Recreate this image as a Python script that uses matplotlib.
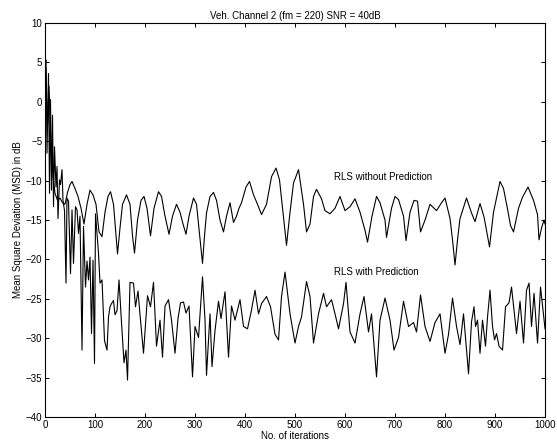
import matplotlib

matplotlib.use("Agg")
import matplotlib.pyplot as plt

# RLS without prediction (upper curve)
iter_wo = [0, 2, 5, 8, 11, 14, 17, 20, 25, 30, 35, 40, 45, 50, 54, 60, 66, 72, 78, 84,
           90, 96, 102, 108, 114, 120, 126, 131, 137, 142, 145, 150, 155, 163, 170, 175,
           179, 185, 192, 198, 204, 211, 218, 227, 233, 240, 248, 255, 263, 270, 276,
           282, 288, 297, 303, 309, 315, 319, 323, 330, 337, 343, 350, 357, 363, 370,
           377, 383, 388, 393, 402, 409, 417, 425, 433, 443, 453, 462, 469, 476, 483,
           490, 497, 507, 517, 523, 530, 537, 543, 553, 560, 570, 580, 590, 600, 610,
           620, 630, 640, 645, 654, 663, 670, 680, 683, 693, 700, 707, 717, 722, 730,
           738, 745, 751, 760, 770, 783, 793, 800, 810, 815, 820, 825, 830, 843, 853,
           860, 870, 878, 889, 897, 910, 917, 925, 931, 937, 947, 955, 966, 977, 985,
           988, 993, 998, 1000]
msd_wo = [5.0, 4.0, -3.0, 2.0, -4.0, -8.0, -10.0, -11.6, -12.5, -12.2, -12.8, -13.0,
          -11.5, -10.5, -10.1, -11.0, -12.0, -13.5, -15.5, -13.0, -11.2, -11.8, -13.0,
          -16.5, -17.1, -14.0, -12.0, -11.4, -13.0, -17.0, -19.3, -16.0, -13.0, -11.8,
          -13.0, -17.0, -19.2, -15.0, -12.5, -12.0, -13.5, -17.0, -13.5, -11.4, -12.0,
          -14.5, -16.8, -14.5, -13.0, -14.0, -15.5, -16.8, -14.5, -12.2, -13.0, -16.7,
          -20.5, -17.0, -14.1, -12.0, -11.5, -12.5, -15.0, -16.5, -14.5, -12.8, -15.3,
          -14.5, -13.5, -12.8, -10.8, -10.1, -11.8, -13.0, -14.3, -13.0, -9.5, -8.4,
          -9.9, -14.0, -18.2, -14.0, -10.3, -8.6, -13.0, -16.5, -15.5, -12.0, -11.1,
          -12.3, -13.8, -14.2, -13.5, -12.0, -13.8, -13.3, -12.3, -14.0, -16.3, -17.8,
          -14.5, -12.0, -12.8, -15.0, -17.2, -13.5, -12.0, -12.4, -14.5, -17.6, -14.0,
          -12.5, -12.6, -16.5, -15.0, -13.0, -13.8, -12.8, -12.2, -14.8, -17.5, -20.7,
          -17.5, -14.8, -12.2, -14.1, -15.2, -12.9, -14.6, -18.4, -14.0, -10.1, -11.0,
          -13.6, -15.7, -16.5, -13.5, -12.1, -10.8, -12.5, -14.3, -17.5, -16.0, -15.0,
          -15.5]

# RLS with prediction (lower curve)
iter_w = [0, 2, 4, 7, 9, 11, 13, 15, 17, 19, 22, 24, 26, 29, 31, 34, 36, 39, 42, 44,
          47, 51, 54, 57, 61, 64, 67, 70, 74, 77, 81, 84, 87, 90, 93, 96, 99, 101, 104,
          107, 110, 114, 119, 124, 127, 130, 133, 137, 140, 144, 148, 153, 158, 162, 165,
          170, 177, 181, 186, 190, 197, 205, 211, 217, 223, 230, 235, 240, 247, 253, 260,
          266, 271, 277, 282, 288, 295, 300, 307, 315, 320, 323, 330, 334, 340, 347, 352,
          360, 367, 373, 380, 390, 397, 405, 413, 420, 427, 433, 443, 451, 460, 467, 473,
          480, 490, 500, 507, 513, 523, 530, 537, 547, 557, 563, 573, 580, 587, 597, 602,
          610, 620, 630, 638, 647, 653, 663, 670, 680, 690, 698, 707, 717, 727, 737, 743,
          751, 760, 770, 780, 790, 800, 807, 815, 823, 830, 837, 847, 853, 858, 861, 865,
          870, 875, 881, 885, 890, 895, 899, 903, 908, 915, 921, 928, 933, 938, 943, 950,
          957, 963, 968, 973, 978, 985, 991, 998, 1000]
msd_w = [5.0, 5.3, -6.5, 3.6, -11.6, 0.3, -11.2, -1.7, -13.3, -5.7, -10.8, -8.2, -14.8,
         -9.9, -10.5, -8.6, -12.5, -13.8, -23.0, -12.2, -12.6, -21.8, -13.7, -20.5,
         -13.3, -13.7, -16.7, -14.5, -31.5, -15.8, -23.5, -20.2, -22.6, -19.7, -29.4,
         -20.1, -33.2, -14.2, -16.7, -19.2, -23.0, -22.6, -30.3, -31.5, -27.3, -26.0,
         -25.6, -25.2, -27.0, -26.5, -22.6, -28.0, -33.1, -31.5, -35.3, -22.9, -23.0,
         -26.0, -24.0, -27.0, -31.9, -24.6, -26.0, -22.9, -31.0, -27.7, -32.4, -25.9,
         -25.1, -27.7, -31.9, -27.5, -25.5, -25.4, -26.8, -25.9, -34.9, -28.5, -29.9,
         -22.2, -27.7, -34.7, -26.9, -33.6, -29.0, -25.3, -27.5, -24.1, -32.4, -25.9,
         -27.7, -25.1, -28.5, -28.8, -26.4, -23.9, -26.9, -25.6, -24.7, -26.0, -29.5,
         -30.2, -24.7, -21.6, -26.9, -30.6, -28.5, -27.3, -22.8, -24.7, -30.6, -26.9,
         -24.3, -26.0, -25.1, -26.9, -28.8, -25.6, -22.9, -29.2, -30.6, -26.9, -24.7,
         -29.2, -26.9, -34.9, -27.7, -24.9, -27.7, -31.5, -29.9, -25.3, -28.5, -28.0,
         -29.2, -24.5, -28.5, -30.4, -28.0, -26.9, -31.9, -29.5, -24.9, -28.5, -30.8,
         -26.9, -34.5, -27.9, -26.0, -28.5, -27.7, -31.9, -27.7, -31.0, -27.3, -23.9,
         -28.5, -30.2, -29.4, -31.0, -31.5, -26.0, -25.5, -23.5, -26.5, -29.4, -25.3,
         -30.6, -23.9, -23.0, -28.5, -24.3, -30.6, -23.5, -27.7, -28.8]

x_ticks = list(range(0, 1001, 100))
y_ticks = list(range(-40, 11, 5))

plt.rcParams["font.family"] = ["Liberation Sans", "DejaVu Sans"]

fig = plt.figure(figsize=(5.57, 4.48), dpi=100)
ax = fig.add_axes([0.0808, 0.069, 0.8977, 0.8795])

ax.plot(iter_wo, msd_wo, color="black", linewidth=0.8)
ax.plot(iter_w, msd_w, color="black", linewidth=0.8)

ax.text(577, -9.5, "RLS without Prediction", fontsize=7, va="center", ha="left")
ax.text(577, -21.6, "RLS with Prediction", fontsize=7, va="center", ha="left")

ax.set_xlim(0, 1000)
ax.set_ylim(-40, 10)
ax.set_xticks(x_ticks)
ax.set_yticks(y_ticks)
ax.tick_params(direction="in", top=True, right=True, labelsize=7, length=3, width=0.7, pad=2)
for s in ax.spines.values():
    s.set_linewidth(0.8)

ax.set_title("Veh. Channel 2 (fm = 220) SNR = 40dB", fontsize=7, pad=3)
ax.set_xlabel("No. of iterations", fontsize=7, labelpad=1)
ax.set_ylabel("Mean Square Deviation (MSD) in dB", fontsize=7, labelpad=2)

fig.savefig("out.png", dpi=100)
